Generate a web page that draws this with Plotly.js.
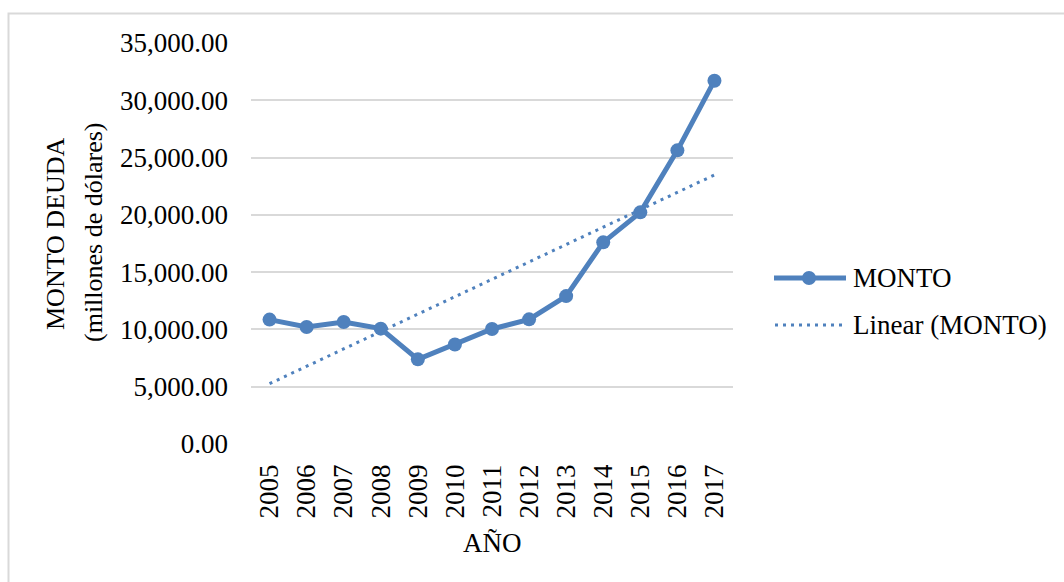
<!DOCTYPE html>
<html>
<head>
<meta charset="utf-8">
<script src="https://cdn.plot.ly/plotly-3.0.1.min.js"></script>
<style>
html,body{margin:0;padding:0;background:#fff;}
#chart{width:1064px;height:582px;}
</style>
</head>
<body>
<div id="chart"></div>
<script>
const years = ['2005','2006','2007','2008','2009','2010','2011','2012','2013','2014','2015','2016','2017'];
const monto = [10860, 10210, 10650, 10070, 7390, 8680, 10040, 10880, 12910, 17600, 20220, 25630, 31710];
const seriesName = 'MONTO';
const trendName = 'Linear (MONTO)';
const yTitleLine1 = 'MONTO DEUDA';
const yTitleLine2 = '(millones de dólares)';
const xTitle = 'AÑO';

// Excel-style linear trendline (least squares over category index)
const n = monto.length;
const idx = monto.map((_, i) => i + 1);
const mx = idx.reduce((a, b) => a + b, 0) / n;
const my = monto.reduce((a, b) => a + b, 0) / n;
let sxy = 0, sxx = 0;
for (let i = 0; i < n; i++) { sxy += (idx[i] - mx) * (monto[i] - my); sxx += (idx[i] - mx) ** 2; }
const slope = sxy / sxx, intercept = my - slope * mx;
const trend = idx.map(x => intercept + slope * x);

const blue = '#4f81bd';
const FONT = '"Liberation Serif", "Times New Roman", serif';
const DOT = '3px,5px';

const L = 251, R = 733, T = 43, B = 444, W = 1064, H = 582;
const px = x => (x - L) / (R - L);
const py = y => (B - y) / (B - T);

const traces = [
  { x: years, y: trend, type: 'scatter', mode: 'lines', name: trendName,
    line: { color: blue, width: 3, dash: DOT }, showlegend: false, hoverinfo: 'skip' },
  { x: years, y: monto, type: 'scatter', mode: 'lines+markers', name: seriesName,
    line: { color: blue, width: 5 }, marker: { color: blue, size: 14 }, showlegend: false }
];

const layout = {
  width: W, height: H,
  margin: { l: L, r: W - R, t: T, b: H - B, pad: 0 },
  paper_bgcolor: '#ffffff', plot_bgcolor: '#ffffff',
  font: { family: FONT, color: '#000000', size: 27 },
  showlegend: false,
  xaxis: {
    type: 'category', range: [-0.5, 12.5], tickangle: -90,
    showgrid: false, zeroline: false, showline: false, ticks: '',
    ticklabelstandoff: 14, tickfont: { family: FONT, size: 27, color: '#000' },
    fixedrange: true
  },
  yaxis: {
    range: [0, 35000], dtick: 5000, tick0: 0, tickformat: ',.2f',
    showgrid: true, gridcolor: '#d9d9d9', gridwidth: 2, zeroline: false, showline: false,
    ticks: '', ticklabelstandoff: 22, tickfont: { family: FONT, size: 27, color: '#000' },
    fixedrange: true
  },
  shapes: [
    { type: 'path', xref: 'paper', yref: 'paper',
      path: `M ${px(8.5)} ${py(600)} L ${px(8.5)} ${py(13.5)} L ${px(1080)} ${py(13.5)}`,
      line: { color: '#d9d9d9', width: 2 } },
    { type: 'line', xref: 'paper', yref: 'paper', x0: px(774), x1: px(846), y0: py(278), y1: py(278),
      line: { color: blue, width: 5 } },
    { type: 'circle', xref: 'paper', yref: 'paper', xsizemode: 'pixel', ysizemode: 'pixel',
      xanchor: px(809), yanchor: py(278), x0: -7, x1: 7, y0: -7, y1: 7,
      fillcolor: blue, line: { color: blue, width: 0 } },
    { type: 'line', xref: 'paper', yref: 'paper', x0: px(775), x1: px(846), y0: py(325), y1: py(325),
      line: { color: blue, width: 3, dash: DOT } }
  ],
  annotations: [
    { text: yTitleLine1, xref: 'paper', yref: 'paper', x: px(55), y: py(234), textangle: -90,
      xanchor: 'center', yanchor: 'middle', showarrow: false, font: { family: FONT, size: 26 } },
    { text: yTitleLine2, xref: 'paper', yref: 'paper', x: px(94), y: py(232), textangle: -90,
      xanchor: 'center', yanchor: 'middle', showarrow: false, font: { family: FONT, size: 26 } },
    { text: xTitle, xref: 'paper', yref: 'paper', x: px(492), y: py(543),
      xanchor: 'center', yanchor: 'middle', showarrow: false, font: { family: FONT, size: 27 } },
    { text: seriesName, xref: 'paper', yref: 'paper', x: px(851), y: py(278),
      xanchor: 'left', yanchor: 'middle', showarrow: false, font: { family: FONT, size: 27 } },
    { text: trendName, xref: 'paper', yref: 'paper', x: px(851), y: py(325),
      xanchor: 'left', yanchor: 'middle', showarrow: false, font: { family: FONT, size: 27 } }
  ]
};

Plotly.newPlot('chart', traces, layout, { displayModeBar: false, staticPlot: true });
</script>
</body>
</html>
